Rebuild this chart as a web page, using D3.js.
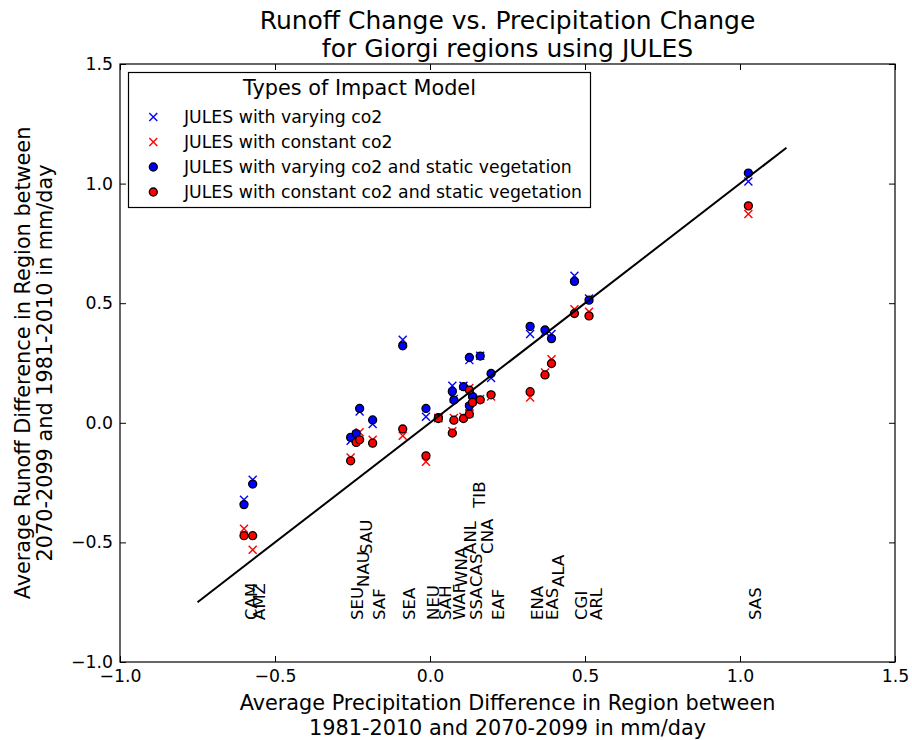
<!DOCTYPE html>
<html>
<head>
<meta charset="utf-8">
<script src="https://cdn.jsdelivr.net/npm/d3@7"></script>
<style>
  body { margin: 0; background: #fff; }
  svg { display: block; font-family: "DejaVu Sans", sans-serif; }
</style>
</head>
<body>
<svg id="chart" width="912" height="740"></svg>
<script>
// Giorgi regions and their precipitation change (mm/day)
const regions = ['CAM', 'AMZ', 'SEU', 'NAU', 'SAU', 'SAF', 'SEA', 'NEU', 'SAH', 'WAF', 'WNA', 'ANL',
  'SSA', 'CAS', 'TIB', 'CNA', 'EAF', 'ENA', 'EAS', 'ALA', 'CGI', 'ARL', 'SAS'];
const precipChange = [-0.600, -0.572, -0.256, -0.238, -0.227, -0.185, -0.088, -0.013, 0.027, 0.072, 0.077, 0.108,
  0.127, 0.127, 0.137, 0.162, 0.197, 0.323, 0.371, 0.392, 0.466, 0.513, 1.027];

// runoff change for each impact model run
const varyingCo2 = [-0.322, -0.238, -0.075, -0.050, 0.047, -0.005, 0.347, 0.025, 0.020, 0.155, 0.100, 0.155,
  0.065, 0.262, 0.105, 0.280, 0.187, 0.371, 0.380, 0.371, 0.615, 0.520, 1.009];
const constantCo2 = [-0.443, -0.531, -0.145, -0.060, -0.040, -0.071, -0.054, -0.163, 0.020, -0.035, 0.020, 0.025,
  0.040, 0.145, 0.090, 0.100, 0.110, 0.106, 0.210, 0.266, 0.475, 0.464, 0.873];
const varyingCo2Static = [-0.342, -0.256, -0.061, -0.045, 0.060, 0.012, 0.322, 0.060, 0.022, 0.131, 0.095, 0.151,
  0.071, 0.273, 0.110, 0.279, 0.206, 0.403, 0.388, 0.352, 0.591, 0.513, 1.044];
const constantCo2Static = [-0.472, -0.472, -0.159, -0.082, -0.071, -0.085, -0.026, -0.138, 0.018, -0.043, 0.011, 0.018,
  0.036, 0.137, 0.085, 0.096, 0.117, 0.130, 0.200, 0.248, 0.457, 0.447, 0.907];

// height (runoff units) where each region name is written
const labelY = [-0.824, -0.824, -0.824, -0.686, -0.548, -0.824, -0.824, -0.824, -0.824, -0.824, -0.686, -0.548,
  -0.824, -0.686, -0.355, -0.548, -0.824, -0.824, -0.824, -0.686, -0.824, -0.824, -0.824];

const oneToOne = [-0.75, 1.15];
const xTicks = [-1.0, -0.5, 0.0, 0.5, 1.0, 1.5];
const yTicks = [-1.0, -0.5, 0.0, 0.5, 1.0, 1.5];

const series = [
  { name: 'JULES with varying co2', values: varyingCo2, color: 'blue', shape: 'x' },
  { name: 'JULES with constant co2', values: constantCo2, color: 'red', shape: 'x' },
  { name: 'JULES with varying co2 and static vegetation', values: varyingCo2Static, color: 'blue', shape: 'o' },
  { name: 'JULES with constant co2 and static vegetation', values: constantCo2Static, color: 'red', shape: 'o' }
];

const svg = d3.select('#chart');
const plotLeft = 120, plotRight = 895, plotTop = 64, plotBottom = 662;

const x = d3.scaleLinear().domain([-1, 1.5]).range([plotLeft, plotRight]);
const y = d3.scaleLinear().domain([-1, 1.5]).range([plotBottom, plotTop]);
const fmt = d3.format('.1f');

// axes, ticks pointing inward on every side
svg.append('g').attr('transform', `translate(0,${plotBottom})`)
  .call(d3.axisBottom(x).tickValues(xTicks).tickFormat(fmt).tickSize(-6).tickPadding(8));
svg.append('g').attr('transform', `translate(0,${plotTop})`)
  .call(d3.axisTop(x).tickValues(xTicks).tickFormat('').tickSize(-6));
svg.append('g').attr('transform', `translate(${plotLeft},0)`)
  .call(d3.axisLeft(y).tickValues(yTicks).tickFormat(fmt).tickSize(-6).tickPadding(7));
svg.append('g').attr('transform', `translate(${plotRight},0)`)
  .call(d3.axisRight(y).tickValues(yTicks).tickFormat('').tickSize(-6));

svg.selectAll('.domain').remove();
svg.selectAll('.tick line').attr('stroke', '#000').attr('stroke-width', 1);
svg.selectAll('.tick text').attr('font-family', 'DejaVu Sans').attr('font-size', 17.3).attr('fill', '#000');

svg.append('rect')
  .attr('x', plotLeft).attr('y', plotTop)
  .attr('width', plotRight - plotLeft).attr('height', plotBottom - plotTop)
  .attr('fill', 'none').attr('stroke', '#000').attr('stroke-width', 1.2);

// region names, rotated
regions.forEach((r, i) => {
  const px = x(precipChange[i]) + 12.7;
  const py = y(labelY[i]);
  svg.append('text')
    .attr('x', px).attr('y', py)
    .attr('transform', `rotate(-90,${px},${py})`)
    .attr('font-size', 16.5)
    .text(r);
});

const xPath = 'M-4,-4L4,4M-4,4L4,-4';

function drawMarker(g, s, cx, cy) {
  if (s.shape === 'x') {
    g.append('path')
      .attr('d', xPath)
      .attr('transform', `translate(${cx},${cy})`)
      .attr('fill', 'none').attr('stroke', s.color).attr('stroke-width', 1.4);
  } else {
    g.append('circle')
      .attr('cx', cx).attr('cy', cy).attr('r', 4)
      .attr('fill', s.color).attr('stroke', '#000').attr('stroke-width', 1.3);
  }
}

const marks = svg.append('g');
series.forEach(s => {
  s.values.forEach((v, i) => drawMarker(marks, s, x(precipChange[i]), y(v)));
});

// 1:1 line
svg.append('path')
  .datum(oneToOne)
  .attr('d', d3.line().x(d => x(d)).y(d => y(d)))
  .attr('stroke', '#000').attr('stroke-width', 2).attr('fill', 'none');

// legend
const lg = svg.append('g');
lg.append('rect')
  .attr('x', 128.5).attr('y', 72.5).attr('width', 462).attr('height', 135)
  .attr('fill', '#fff').attr('stroke', '#000').attr('stroke-width', 1.2);
lg.append('text')
  .attr('x', 359.5).attr('y', 95).attr('text-anchor', 'middle')
  .attr('font-size', 20.8).text('Types of Impact Model');
series.forEach((s, i) => {
  const cy = 117 + i * 25;
  drawMarker(lg, s, 153.3, cy);
  lg.append('text')
    .attr('x', 184).attr('y', cy + 6)
    .attr('font-size', 17.3).text(s.name);
});

// titles
const midX = (plotLeft + plotRight) / 2;
svg.append('text').attr('x', midX).attr('y', 28.5).attr('text-anchor', 'middle')
  .attr('font-size', 25).text('Runoff Change vs. Precipitation Change');
svg.append('text').attr('x', midX).attr('y', 57).attr('text-anchor', 'middle')
  .attr('font-size', 25).text('for Giorgi regions using JULES');

svg.append('text').attr('x', midX).attr('y', 710).attr('text-anchor', 'middle')
  .attr('font-size', 20.8).text('Average Precipitation Difference in Region between');
svg.append('text').attr('x', midX).attr('y', 734.5).attr('text-anchor', 'middle')
  .attr('font-size', 20.8).text('1981-2010 and 2070-2099 in mm/day');

const midY = (plotTop + plotBottom) / 2;
svg.append('text').attr('transform', `translate(29.5,${midY}) rotate(-90)`).attr('text-anchor', 'middle')
  .attr('font-size', 20.8).text('Average Runoff Difference in Region between');
svg.append('text').attr('transform', `translate(51.5,${midY}) rotate(-90)`).attr('text-anchor', 'middle')
  .attr('font-size', 20.8).text('2070-2099 and 1981-2010 in mm/day');
</script>
</body>
</html>
